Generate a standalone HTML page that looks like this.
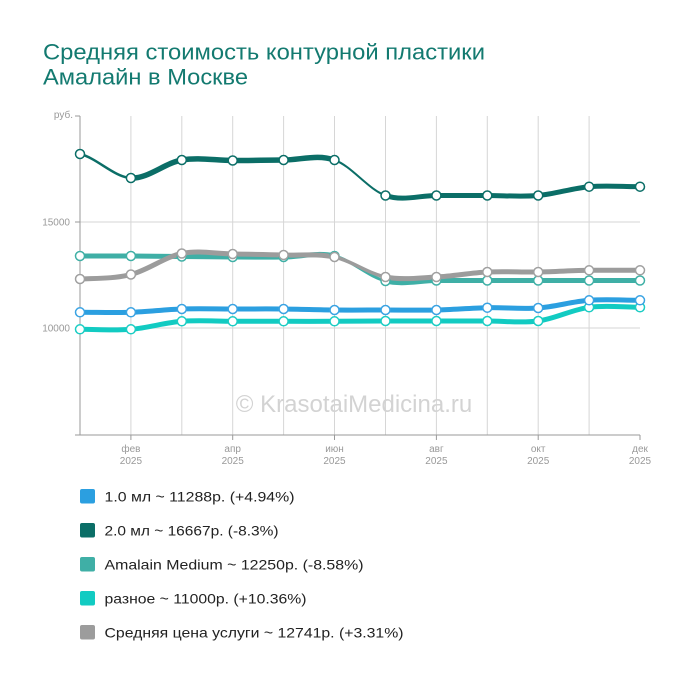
<!DOCTYPE html>
<html>
<head>
<meta charset="utf-8">
<style>
  html, body { margin: 0; padding: 0; background: #ffffff; }
  svg { display: block; }
  text { font-family: "Liberation Sans", Arial, sans-serif; }
</style>
</head>
<body>
<svg width="700" height="680" viewBox="0 0 700 680" xmlns="http://www.w3.org/2000/svg">
  <rect width="700" height="680" fill="#ffffff"/>

  <!-- Title -->
  <text x="43" y="59.5" font-size="22" fill="#137a70" textLength="442" lengthAdjust="spacingAndGlyphs">Средняя стоимость контурной пластики</text>
  <text x="43" y="84.5" font-size="22" fill="#137a70" textLength="205" lengthAdjust="spacingAndGlyphs">Амалайн в Москве</text>

  <!-- Horizontal gridlines -->
  <line x1="80" y1="222" x2="640" y2="222" stroke="#e4e4e4" stroke-width="1.6"/>
  <line x1="80" y1="328" x2="640" y2="328" stroke="#e4e4e4" stroke-width="1.6"/>

  <!-- Vertical gridlines -->
  <g stroke="#d6d6d6" stroke-width="1">
    <line x1="130.9" y1="116" x2="130.9" y2="435"/>
    <line x1="181.8" y1="116" x2="181.8" y2="435"/>
    <line x1="232.7" y1="116" x2="232.7" y2="435"/>
    <line x1="283.6" y1="116" x2="283.6" y2="435"/>
    <line x1="334.5" y1="116" x2="334.5" y2="435"/>
    <line x1="385.5" y1="116" x2="385.5" y2="435"/>
    <line x1="436.4" y1="116" x2="436.4" y2="435"/>
    <line x1="487.3" y1="116" x2="487.3" y2="435"/>
    <line x1="538.2" y1="116" x2="538.2" y2="435"/>
    <line x1="589.1" y1="116" x2="589.1" y2="435"/>
  </g>

  <!-- Watermark -->
  <text x="354" y="412" font-size="24" fill="#d3d3d3" text-anchor="middle">© KrasotaiMedicina.ru</text>

  <!-- Axes -->
  <g stroke="#9a9a9a" stroke-width="1">
    <line x1="80" y1="116" x2="80" y2="435"/>
    <line x1="75" y1="116" x2="80" y2="116"/>
    <line x1="75" y1="222" x2="80" y2="222"/>
    <line x1="75" y1="328" x2="80" y2="328"/>
    <line x1="75" y1="435" x2="640" y2="435"/>
    <line x1="130.9" y1="435" x2="130.9" y2="440"/>
    <line x1="232.7" y1="435" x2="232.7" y2="440"/>
    <line x1="334.5" y1="435" x2="334.5" y2="440"/>
    <line x1="436.4" y1="435" x2="436.4" y2="440"/>
    <line x1="538.2" y1="435" x2="538.2" y2="440"/>
    <line x1="640" y1="435" x2="640" y2="440"/>
  </g>

  <!-- Y labels -->
  <g font-size="10" fill="#999999" text-anchor="end">
    <text x="73" y="118">руб.</text>
    <text x="70" y="225.5">15000</text>
    <text x="70" y="331.5">10000</text>
  </g>

  <!-- X labels -->
  <g font-size="10" fill="#999999" text-anchor="middle">
    <text x="130.9" y="452">фев</text><text x="130.9" y="464">2025</text>
    <text x="232.7" y="452">апр</text><text x="232.7" y="464">2025</text>
    <text x="334.5" y="452">июн</text><text x="334.5" y="464">2025</text>
    <text x="436.4" y="452">авг</text><text x="436.4" y="464">2025</text>
    <text x="538.2" y="452">окт</text><text x="538.2" y="464">2025</text>
    <text x="640" y="452">дек</text><text x="640" y="464">2025</text>
  </g>

  <!-- Series lines -->
  <g fill="none" stroke-linecap="round" stroke-linejoin="round">
    <!-- cyan: разное -->
    <path stroke="#12cbc2" stroke-width="5" d="M80,329.3 C96.97,329.3 113.93,330.63 130.9,329.3 C147.87,327.97 164.83,322.63 181.8,321.3 C198.77,319.97 215.73,321.3 232.7,321.3 L283.6,321.3 C300.57,321.3 317.53,321.35 334.5,321.3 C351.47,321.25 368.53,321.05 385.5,321 C402.47,320.95 419.43,321 436.4,321 L487.3,321 C504.27,321 521.23,323.28 538.2,321 C555.17,318.72 572.13,309.58 589.1,307.3 C606.07,305.02 623.03,307.3 640,307.3"/>
    <!-- blue: 1.0 ml -->
    <path stroke="#2b9fe0" stroke-width="5" d="M80,312.3 C96.97,312.3 113.93,312.85 130.9,312.3 C147.87,311.75 164.83,309.55 181.8,309 C198.77,308.45 215.73,309 232.7,309 C249.67,309 266.63,308.83 283.6,309 C300.57,309.17 317.53,309.83 334.5,310 C351.47,310.17 368.53,310 385.5,310 C402.47,310 419.43,310.38 436.4,310 C453.37,309.62 470.33,308.03 487.3,307.7 C504.27,307.37 521.23,309.23 538.2,308 C555.17,306.77 572.13,301.58 589.1,300.3 C606.07,299.02 623.03,300.3 640,300.3"/>
    <!-- teal: Amalain Medium -->
    <path stroke="#3fafa6" stroke-width="5" d="M80,256 C96.97,256 113.93,255.92 130.9,256 C147.87,256.08 164.83,256.33 181.8,256.5 C198.77,256.67 215.73,256.92 232.7,257 C249.67,257.08 266.63,257.17 283.6,257 C300.57,256.83 317.53,252 334.5,256"/>
    <path stroke="#3fafa6" stroke-width="3" d="M334.5,256 C351.47,260 368.53,276.92 385.5,281"/>
    <path stroke="#3fafa6" stroke-width="5" d="M385.5,281 C402.47,285.08 419.43,280.58 436.4,280.5 L640,280.5"/>
    <!-- gray: average -->
    <path stroke="#9c9c9c" stroke-width="5" d="M80,279 C96.97,278.25 113.93,278.75 130.9,274.5 C147.87,270.25 164.83,256.92 181.8,253.5 C198.77,250.08 215.73,253.75 232.7,254 C249.67,254.25 266.63,254.5 283.6,255 C300.57,255.5 317.53,253.33 334.5,257"/>
    <path stroke="#9c9c9c" stroke-width="3.5" d="M334.5,257 C351.47,260.67 368.53,273.67 385.5,277"/>
    <path stroke="#9c9c9c" stroke-width="5" d="M385.5,277 C402.47,280.33 419.43,277.83 436.4,277 C453.37,276.17 470.33,272.83 487.3,272 C504.27,271.17 521.23,272.28 538.2,272 C555.17,271.72 572.13,270.58 589.1,270.3 C606.07,270.02 623.03,270.3 640,270.3"/>
    <!-- dark teal: 2.0 ml -->
    <path stroke="#0b6e67" stroke-width="2.5" d="M80,154 C96.97,158 113.93,177 130.9,178"/>
    <path stroke="#0b6e67" stroke-width="5.5" d="M130.9,178 C147.87,179 164.83,162.92 181.8,160 C198.77,157.08 215.73,160.5 232.7,160.5 C249.67,160.5 266.63,160.08 283.6,160 C300.57,159.92 317.53,154.08 334.5,160"/>
    <path stroke="#0b6e67" stroke-width="2" d="M334.5,160 C351.47,165.92 368.53,189.58 385.5,195.5"/>
    <path stroke="#0b6e67" stroke-width="5" d="M385.5,195.5 C402.47,201.42 419.43,195.5 436.4,195.5 L487.3,195.5 C504.27,195.5 521.23,196.97 538.2,195.5 C555.17,194.03 572.13,188.17 589.1,186.7 C606.07,185.23 623.03,186.7 640,186.7"/>
  </g>

  <!-- Markers -->
  <g fill="#ffffff" stroke-width="1.5">
    <g stroke="#1ccdc4">
      <circle cx="80" cy="329.3" r="4.5"/><circle cx="130.9" cy="329.3" r="4.5"/><circle cx="181.8" cy="321.3" r="4.5"/><circle cx="232.7" cy="321.3" r="4.5"/><circle cx="283.6" cy="321.3" r="4.5"/><circle cx="334.5" cy="321.3" r="4.5"/><circle cx="385.5" cy="321" r="4.5"/><circle cx="436.4" cy="321" r="4.5"/><circle cx="487.3" cy="321" r="4.5"/><circle cx="538.2" cy="321" r="4.5"/><circle cx="589.1" cy="307.3" r="4.5"/><circle cx="640" cy="307.3" r="4.5"/>
    </g>
    <g stroke="#3aa3e3">
      <circle cx="80" cy="312.3" r="4.5"/><circle cx="130.9" cy="312.3" r="4.5"/><circle cx="181.8" cy="309" r="4.5"/><circle cx="232.7" cy="309" r="4.5"/><circle cx="283.6" cy="309" r="4.5"/><circle cx="334.5" cy="310" r="4.5"/><circle cx="385.5" cy="310" r="4.5"/><circle cx="436.4" cy="310" r="4.5"/><circle cx="487.3" cy="307.7" r="4.5"/><circle cx="538.2" cy="308" r="4.5"/><circle cx="589.1" cy="300.3" r="4.5"/><circle cx="640" cy="300.3" r="4.5"/>
    </g>
    <g stroke="#40b0a6">
      <circle cx="80" cy="256" r="4.5"/><circle cx="130.9" cy="256" r="4.5"/><circle cx="181.8" cy="256.5" r="4.5"/><circle cx="232.7" cy="257" r="4.5"/><circle cx="283.6" cy="257" r="4.5"/><circle cx="334.5" cy="256" r="4.5"/><circle cx="385.5" cy="281" r="4.5"/><circle cx="436.4" cy="280.5" r="4.5"/><circle cx="487.3" cy="280.5" r="4.5"/><circle cx="538.2" cy="280.5" r="4.5"/><circle cx="589.1" cy="280.5" r="4.5"/><circle cx="640" cy="280.5" r="4.5"/>
    </g>
    <g stroke="#a0a0a0">
      <circle cx="80" cy="279" r="4.5"/><circle cx="130.9" cy="274.5" r="4.5"/><circle cx="181.8" cy="253.5" r="4.5"/><circle cx="232.7" cy="254" r="4.5"/><circle cx="283.6" cy="255" r="4.5"/><circle cx="334.5" cy="257" r="4.5"/><circle cx="385.5" cy="277" r="4.5"/><circle cx="436.4" cy="277" r="4.5"/><circle cx="487.3" cy="272" r="4.5"/><circle cx="538.2" cy="272" r="4.5"/><circle cx="589.1" cy="270.3" r="4.5"/><circle cx="640" cy="270.3" r="4.5"/>
    </g>
    <g stroke="#0b6e67">
      <circle cx="80" cy="154" r="4.5"/><circle cx="130.9" cy="178" r="4.5"/><circle cx="181.8" cy="160" r="4.5"/><circle cx="232.7" cy="160.5" r="4.5"/><circle cx="283.6" cy="160" r="4.5"/><circle cx="334.5" cy="160" r="4.5"/><circle cx="385.5" cy="195.5" r="4.5"/><circle cx="436.4" cy="195.5" r="4.5"/><circle cx="487.3" cy="195.5" r="4.5"/><circle cx="538.2" cy="195.5" r="4.5"/><circle cx="589.1" cy="186.7" r="4.5"/><circle cx="640" cy="186.7" r="4.5"/>
    </g>
  </g>

  <!-- Legend -->
  <rect x="80" y="489" width="15" height="14.5" rx="2" fill="#2b9fe0"/>
  <text x="104.5" y="501.5" font-size="14" fill="#222222" textLength="190" lengthAdjust="spacingAndGlyphs">1.0 мл ~ 11288р. (+4.94%)</text>
  <rect x="80" y="523" width="15" height="14.5" rx="2" fill="#0b6e67"/>
  <text x="104.5" y="535.5" font-size="14" fill="#222222" textLength="174" lengthAdjust="spacingAndGlyphs">2.0 мл ~ 16667р. (-8.3%)</text>
  <rect x="80" y="557" width="15" height="14.5" rx="2" fill="#3fafa6"/>
  <text x="104.5" y="569.5" font-size="14" fill="#222222" textLength="259" lengthAdjust="spacingAndGlyphs">Amalain Medium ~ 12250р. (-8.58%)</text>
  <rect x="80" y="591" width="15" height="14.5" rx="2" fill="#12cbc2"/>
  <text x="104.5" y="603.5" font-size="14" fill="#222222" textLength="202" lengthAdjust="spacingAndGlyphs">разное ~ 11000р. (+10.36%)</text>
  <rect x="80" y="625" width="15" height="14.5" rx="2" fill="#9c9c9c"/>
  <text x="104.5" y="637.5" font-size="14" fill="#222222" textLength="299" lengthAdjust="spacingAndGlyphs">Средняя цена услуги ~ 12741р. (+3.31%)</text>
</svg>
</body>
</html>
